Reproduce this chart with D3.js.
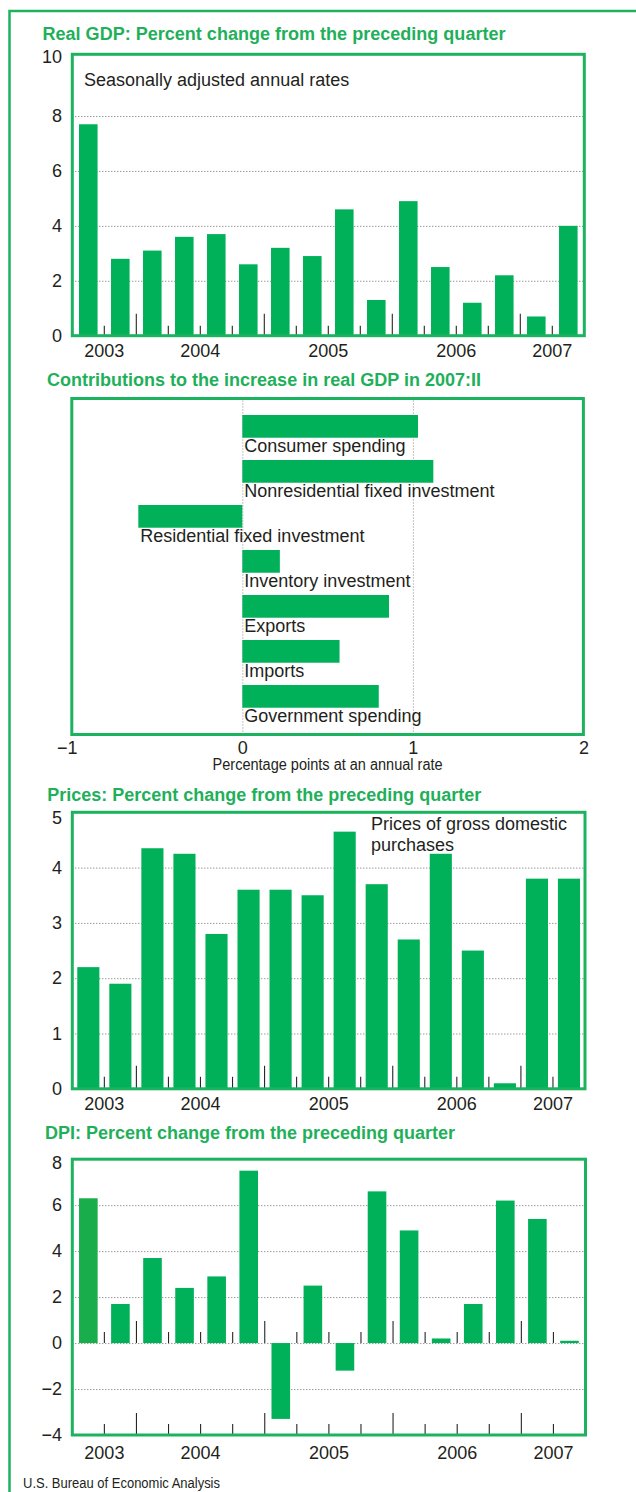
<!DOCTYPE html>
<html>
<head>
<meta charset="utf-8">
<script src="https://cdn.jsdelivr.net/npm/d3@7"></script>
<style>
html,body{margin:0;padding:0;background:#fff;}
svg{display:block;}
</style>
</head>
<body>
<svg id="chart" width="636" height="1492"></svg>
<script>
// ---------------- DATA ----------------
const quarters = ["2003:III","2003:IV","2004:I","2004:II","2004:III","2004:IV",
  "2005:I","2005:II","2005:III","2005:IV","2006:I","2006:II","2006:III","2006:IV",
  "2007:I","2007:II"];
const years = ["2003","2004","2005","2006","2007"];

const gdpGrowth   = [7.7, 2.8, 3.1, 3.6, 3.7, 2.6, 3.2, 2.9, 4.6, 1.3, 4.9, 2.5, 1.2, 2.2, 0.7, 4.0];
const priceChange = [2.2, 1.9, 4.35, 4.25, 2.8, 3.6, 3.6, 3.5, 4.65, 3.7, 2.7, 4.25, 2.5, 0.1, 3.8, 3.8];
const dpiChange   = [6.3, 1.7, 3.7, 2.4, 2.9, 7.5, -3.3, 2.5, -1.2, 6.6, 4.9, 0.2, 1.7, 6.2, 5.4, 0.1];

const contribCategories = ["Consumer spending","Nonresidential fixed investment",
  "Residential fixed investment","Inventory investment","Exports","Imports","Government spending"];
const contribValues = [1.03, 1.12, -0.61, 0.22, 0.86, 0.57, 0.80];

const gdpTicks = [0,2,4,6,8,10];
const gdpGrid = [2,4,6,8];
const priceTicks = [0,1,2,3,4,5];
const priceGrid = [1,2,3,4];
const dpiTicks = [-4,-2,0,2,4,6,8];
const dpiGrid = [-2,0,2,4,6];
const contribTicks = [-1,0,1,2];
const contribGrid = [0,1];

const titles = {
  gdp: "Real GDP: Percent change from the preceding quarter",
  contrib: "Contributions to the increase in real GDP in 2007:II",
  prices: "Prices: Percent change from the preceding quarter",
  dpi: "DPI: Percent change from the preceding quarter"
};

// ---------------- STYLE ----------------
const GREEN_BAR = "#00b159", GREEN_LINE = "#1cb35f", GREEN_TEXT = "#1fb05a", INK = "#231f20";
const NARROW = "'Liberation Sans Narrow','Arial Narrow','Liberation Sans',Arial,sans-serif";
const SANS = "'Liberation Sans',Arial,Helvetica,sans-serif";
const fmt = d3.format("~g");

const svg = d3.select("#chart");

// outer frame (cropped)
svg.append("path").attr("d","M9.5,1500V11H640")
  .attr("fill","none").attr("stroke",GREEN_LINE).attr("stroke-width",2.5);

function title(txt, x, y, w){
  svg.append("text").attr("x",x).attr("y",y)
    .attr("font-family",NARROW).attr("font-weight","bold").attr("font-size",18)
    .attr("fill",GREEN_TEXT).attr("textLength",w).attr("lengthAdjust","spacingAndGlyphs")
    .text(txt);
}
function plainText(txt, x, y, opts={}){
  return svg.append("text").attr("x",x).attr("y",y)
    .attr("font-family",opts.family||SANS).attr("font-size",opts.size||18)
    .attr("fill",INK).attr("text-anchor",opts.anchor||"start")
    .text(txt);
}

function quarterPanel(cfg){
  const {values, left, right, top, bottom, domain, rangeTop, ticks, grid, pad,
         tickBases, shortLen, longLen, yearBaseline, firstColor, labelNudge} = cfg;
  const x = d3.scaleBand().domain(quarters).range([left,right])
    .paddingInner(pad).paddingOuter(pad/2);
  const y = d3.scaleLinear().domain(domain).range([bottom, rangeTop]);
  const g = svg.append("g");

  // gridlines
  const ga = g.append("g").attr("transform",`translate(${left},0)`)
    .call(d3.axisLeft(y).tickValues(grid).tickSize(-(right-left)).tickFormat(""));
  ga.select(".domain").remove();
  ga.selectAll("line").attr("stroke","#6d6d6d").attr("stroke-width",1)
    .attr("stroke-dasharray","1,2");

  // bars
  g.selectAll("rect.bar").data(values).join("rect").attr("class","bar")
    .attr("x",(d,i)=>x(quarters[i]))
    .attr("width",x.bandwidth())
    .attr("y",d=>y(Math.max(0,d)))
    .attr("height",d=>Math.abs(y(d)-y(0)))
    .attr("fill",(d,i)=> (i===0 && firstColor) ? firstColor : GREEN_BAR);

  // quarter tick marks
  const off = (x.step()-x.bandwidth())/2;
  const bounds = quarters.slice(1).map(q=>({x:x(q)-off, long:q.endsWith(":I")}));
  tickBases.forEach(base=>{
    g.selectAll(null).data(bounds).join("line")
      .attr("x1",d=>d.x).attr("x2",d=>d.x)
      .attr("y1",y(base)).attr("y2",d=>y(base)-(d.long?longLen:shortLen))
      .attr("stroke","#262626").attr("stroke-width",1.1);
  });

  // frame
  g.append("rect").attr("x",left).attr("y",top).attr("width",right-left).attr("height",bottom-top)
    .attr("fill","none").attr("stroke",GREEN_LINE).attr("stroke-width",3);

  // y labels
  const ya = g.append("g").attr("transform",`translate(${left},0)`)
    .call(d3.axisLeft(y).tickValues(ticks).tickFormat(fmt).tickSize(0).tickPadding(left-62));
  ya.select(".domain").remove();
  ya.selectAll("text").attr("font-size",18).attr("font-family",SANS).attr("fill",INK)
    .attr("y", d => (labelNudge && labelNudge[d]) ? labelNudge[d] : 0);

  // year labels
  years.forEach(yr=>{
    const qs = quarters.filter(q=>q.startsWith(yr));
    const x0 = x(qs[0]) - off, x1 = x(qs[qs.length-1]) + x.bandwidth() + off;
    g.append("text").attr("x",(x0+x1)/2).attr("y",yearBaseline)
      .attr("text-anchor","middle").attr("font-family",SANS).attr("font-size",18)
      .attr("fill",INK).text(yr);
  });
  return {x,y};
}

// ---------------- PANEL 1: Real GDP ----------------
title(titles.gdp, 42.5, 40, 463);
quarterPanel({values:gdpGrowth, left:72.3, right:584.3, top:54.3, bottom:335.7,
  domain:[0,10], rangeTop:61.1, ticks:gdpTicks, grid:gdpGrid, pad:0.42,
  tickBases:[0], shortLen:10, longLen:22, yearBaseline:357, labelNudge:{10:-4}});
plainText("Seasonally adjusted annual rates", 84, 86);

// ---------------- PANEL 2: Contributions ----------------
title(titles.contrib, 47, 386, 434);
(function(){
  const left=71.8, right=583.4, top=398.5, bottom=734.5;
  const x = d3.scaleLinear().domain([-1,2]).range([left,right]);
  const y = d3.scaleBand().domain(contribCategories).range([415,730]);
  const g = svg.append("g");
  const gv = g.append("g").attr("transform",`translate(0,${bottom})`)
    .call(d3.axisBottom(x).tickValues(contribGrid).tickSize(-(bottom-top)).tickFormat(""));
  gv.select(".domain").remove();
  gv.selectAll("line").attr("stroke","#8a8a8a").attr("stroke-width",1).attr("stroke-dasharray","1,2");

  const data = contribCategories.map((c,i)=>({c, v:contribValues[i]}));
  g.selectAll("rect.bar").data(data).join("rect").attr("class","bar")
    .attr("x",d=>x(Math.min(0,d.v))).attr("width",d=>Math.abs(x(d.v)-x(0)))
    .attr("y",d=>y(d.c)).attr("height",y.step()*0.505).attr("fill",GREEN_BAR);
  g.selectAll("text.lab").data(data).join("text").attr("class","lab")
    .attr("x",d=>x(Math.min(0,d.v))+2).attr("y",d=>y(d.c)+37)
    .attr("font-family",SANS).attr("font-size",18).attr("fill",INK).text(d=>d.c);

  g.append("rect").attr("x",left).attr("y",top).attr("width",right-left).attr("height",bottom-top)
    .attr("fill","none").attr("stroke",GREEN_LINE).attr("stroke-width",3);

  const xa = g.append("g").attr("transform",`translate(0,${bottom})`)
    .call(d3.axisBottom(x).tickValues(contribTicks).tickFormat(fmt).tickSize(0).tickPadding(7));
  xa.select(".domain").remove();
  xa.selectAll("text").attr("font-size",18).attr("font-family",SANS).attr("fill",INK)
    .attr("dx",d=>d<0?"-0.28em":null);
  svg.append("text").attr("x",(left+right)/2).attr("y",770).attr("text-anchor","middle")
    .attr("font-family",NARROW).attr("font-size",16).attr("fill",INK)
    .attr("textLength",230).attr("lengthAdjust","spacingAndGlyphs")
    .text("Percentage points at an annual rate");
})();

// ---------------- PANEL 3: Prices ----------------
title(titles.prices, 47.3, 801, 434);
quarterPanel({values:priceChange, left:72.3, right:585, top:812.3, bottom:1088.8,
  domain:[0,5], rangeTop:812.3, ticks:priceTicks, grid:priceGrid, pad:0.31,
  tickBases:[0], shortLen:12, longLen:23, yearBaseline:1110, labelNudge:{5:5}});
plainText("Prices of gross domestic", 371, 830);
plainText("purchases", 371, 851);

// ---------------- PANEL 4: DPI ----------------
title(titles.dpi, 45, 1138.5, 410);
quarterPanel({values:dpiChange, left:72.3, right:585.5, top:1159.2, bottom:1435,
  domain:[-4,8], rangeTop:1159.2, ticks:dpiTicks, grid:dpiGrid, pad:0.42,
  tickBases:[0,-4], shortLen:11, longLen:22, yearBaseline:1459, firstColor:"#1aad4c",
  labelNudge:{8:4}});

// ---------------- FOOTER ----------------
svg.append("text").attr("x",23).attr("y",1488)
  .attr("font-family",NARROW).attr("font-size",14).attr("fill",INK)
  .attr("textLength",197).attr("lengthAdjust","spacingAndGlyphs")
  .text("U.S. Bureau of Economic Analysis");
</script>
</body>
</html>
